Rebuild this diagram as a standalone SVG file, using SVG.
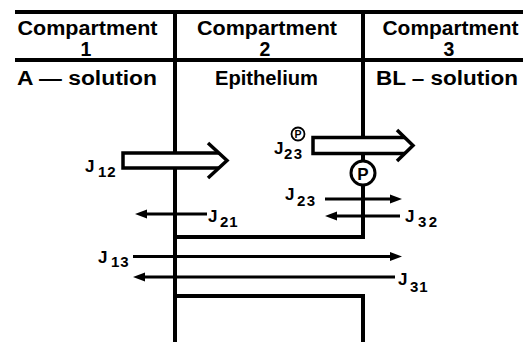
<svg xmlns="http://www.w3.org/2000/svg" width="523" height="342" viewBox="0 0 523 342">
<style>
text{font-family:"Liberation Sans",Arial,Helvetica,sans-serif;font-weight:bold;fill:#000}
.hdr{font-size:19.5px;text-anchor:middle}
.j{font-size:17px}
.s{font-size:15px}
.wall{stroke:#000;stroke-width:4;fill:none}
.flux{stroke:#000;stroke-width:2.8;fill:none;marker-end:url(#ah)}
.big{stroke:#000;stroke-width:3.5;fill:none;stroke-linejoin:miter}
.bigfill{fill:#fff;stroke:none}
.pc{fill:#fff;stroke:#000}
</style>
<defs>
<marker id="ah" markerUnits="userSpaceOnUse" markerWidth="14" markerHeight="10" refX="2" refY="5" orient="auto">
<path d="M0,0.5 L12,5 L0,9.5 Z" fill="#000"/>
</marker>
</defs>
<g id="frame">
<line class="wall" x1="15" y1="12" x2="523" y2="12"/>
<line class="wall" x1="15" y1="60" x2="523" y2="60" stroke-width="3.5"/>
<line class="wall" x1="175" y1="12" x2="175" y2="342"/>
<line class="wall" x1="363" y1="12" x2="363" y2="239"/>
<line class="wall" x1="173" y1="237" x2="365" y2="237"/>
<line class="wall" x1="173" y1="296" x2="365" y2="296"/>
<line class="wall" x1="363" y1="294" x2="363" y2="342"/>
</g>
<g id="compartment1">
<text class="hdr" x="87.5" y="35" textLength="140" lengthAdjust="spacingAndGlyphs">Compartment</text>
<text class="hdr" x="86" y="56">1</text>
<text class="hdr" x="87" y="85" textLength="140" lengthAdjust="spacingAndGlyphs">A — solution</text>
</g>
<g id="compartment2">
<text class="hdr" x="267" y="35" textLength="140" lengthAdjust="spacingAndGlyphs">Compartment</text>
<text class="hdr" x="265" y="56">2</text>
<text class="hdr" x="266.5" y="85" textLength="103" lengthAdjust="spacingAndGlyphs">Epithelium</text>
</g>
<g id="compartment3">
<text class="hdr" x="450.5" y="35" textLength="136" lengthAdjust="spacingAndGlyphs">Compartment</text>
<text class="hdr" x="449" y="56">3</text>
<text class="hdr" x="447" y="85" textLength="142" lengthAdjust="spacingAndGlyphs">BL – solution</text>
</g>
<g id="connectors">
<g id="J12-arrow">
<path class="bigfill" d="M123,153 L219,153 L227,160.5 L219,168 L123,168 Z"/>
<path class="big" d="M219,153 L123,153 L123,168 L219,168"/>
<path class="big" d="M208,143 L227,160.5 L208,178"/>
</g>
<g id="J23P-arrow">
<path class="bigfill" d="M313,137.5 L405,137.5 L413,145.5 L405,153.5 L313,153.5 Z"/>
<path class="big" d="M405,137.5 L313,137.5 L313,153.5 L405,153.5"/>
<path class="big" d="M397,130 L413,145.5 L397,161"/>
</g>
<line class="flux" x1="207" y1="214" x2="145" y2="214"/>
<line class="flux" x1="325" y1="199" x2="392" y2="199"/>
<line class="flux" x1="400" y1="216" x2="335" y2="216"/>
<line class="flux" x1="133" y1="256.5" x2="392" y2="256.5"/>
<line class="flux" x1="395" y1="277" x2="143" y2="277"/>
</g>
<g id="pump">
<circle class="pc" cx="363" cy="173" r="12" stroke-width="3"/>
<text x="363" y="179.5" font-size="17" text-anchor="middle">P</text>
</g>
<g id="labels">
<text class="j" x="85" y="172">J<tspan class="s" x="98" y="177" letter-spacing="1">12</tspan></text>
<text class="j" x="208" y="222">J<tspan class="s" x="220" y="227" letter-spacing="1">21</tspan></text>
<text class="j" x="285" y="200">J<tspan class="s" x="297" y="206" letter-spacing="1.5">23</tspan></text>
<text class="j" x="405" y="222">J<tspan class="s" x="418" y="227" letter-spacing="2.5">32</tspan></text>
<text class="j" x="98" y="263">J<tspan class="s" x="111" y="267" letter-spacing="1">13</tspan></text>
<text class="j" x="398" y="285">J<tspan class="s" x="410" y="292" letter-spacing="1">31</tspan></text>
<g id="J23P-label">
<text class="j" x="274" y="154">J<tspan class="s" x="284" y="159" letter-spacing="1.5">23</tspan></text>
<circle class="pc" cx="298" cy="134" r="6.5" stroke-width="1.8"/>
<text x="298" y="137.8" font-size="10.5" text-anchor="middle">P</text>
</g>
</g>
</svg>
